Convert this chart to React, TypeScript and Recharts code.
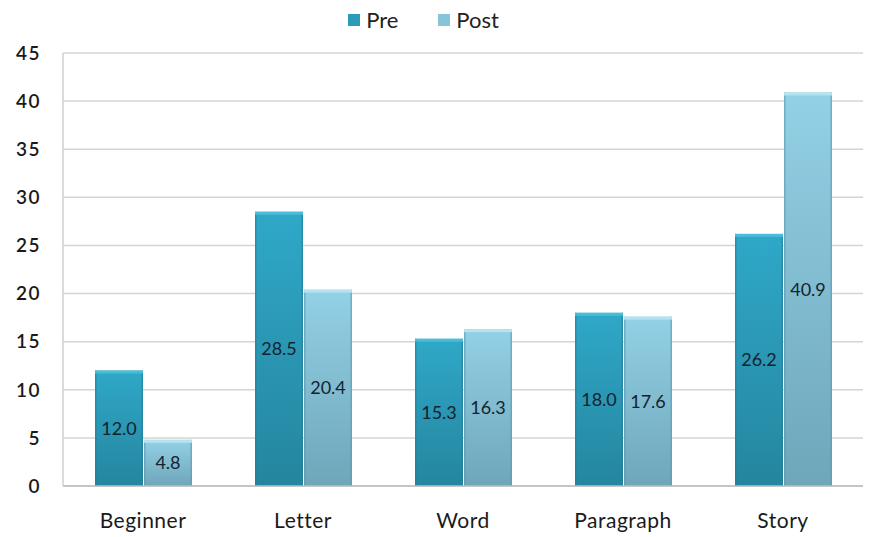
import React from "react";
import {
  BarChart,
  Bar,
  XAxis,
  YAxis,
  CartesianGrid,
  Legend,
  LabelList
} from "recharts";

const levels = ["Beginner", "Letter", "Word", "Paragraph", "Story"];
const preScores = [12.0, 28.5, 15.3, 18.0, 26.2];
const postScores = [4.8, 20.4, 16.3, 17.6, 40.9];
const yTicks = [0, 5, 10, 15, 20, 25, 30, 35, 40, 45];

const data = levels.map((name, i) => ({
  name,
  Pre: preScores[i],
  Post: postScores[i]
}));

const FONT = "Lato, 'Open Sans', sans-serif";

// bar with a light cap on top, like the old office 3d-ish style
function makeShape(grad: string, cap: string, edge: string) {
  return (props: any) => {
    const { x, y, width, height } = props;
    if (!height || height <= 0) return null;
    return (
      <g>
        <rect x={x} y={y} width={width} height={height} fill={`url(#${grad})`} />
        <rect x={x} y={y} width={1.5} height={height} fill={edge} opacity={0.6} />
        <rect x={x + width - 1.5} y={y} width={1.5} height={height} fill={edge} opacity={0.6} />
        <rect x={x} y={y} width={width} height={3} fill={cap} />
      </g>
    );
  };
}

function LegendBox() {
  const items = [
    { label: "Pre", color: "#2a9cb9" },
    { label: "Post", color: "#86c4da" }
  ];
  return (
    <div style={{ display: "flex", justifyContent: "center", gap: 40, fontFamily: FONT, fontSize: 22, color: "#222", marginLeft: -22 }}>
      {items.map((it) => (
        <div key={it.label} style={{ display: "flex", alignItems: "center" }}>
          <span style={{ width: 12, height: 12, background: it.color, marginRight: 6, display: "inline-block" }} />
          {it.label}
        </div>
      ))}
    </div>
  );
}

export default function App(): JSX.Element {
  return (
    <div style={{ position: "absolute", left: 0, top: 0 }}>
      <BarChart
        width={869}
        height={537}
        data={data}
        barCategoryGap="20%"
        barGap={1}
        margin={{ top: 26, right: 6, left: 0, bottom: 0 }}
      >
        <defs>
          <linearGradient id="preGrad" x1="0" y1="0" x2="0" y2="1">
            <stop offset="0%" stopColor="#2fa8c8" />
            <stop offset="100%" stopColor="#25859f" />
          </linearGradient>
          <linearGradient id="postGrad" x1="0" y1="0" x2="0" y2="1">
            <stop offset="0%" stopColor="#93d1e6" />
            <stop offset="100%" stopColor="#6ea6ba" />
          </linearGradient>
        </defs>
        <CartesianGrid vertical={false} stroke="#d4d4d4" strokeWidth={1.5} />
        <XAxis
          dataKey="name"
          height={51}
          stroke="#bdbdbd"
          strokeWidth={1.5}
          tickLine={false}
          tickMargin={21}
          tick={{ fontFamily: FONT, fontSize: 21, fill: "#1a1a1a", letterSpacing: 0.5 }}
        />
        <YAxis
          width={63}
          domain={[0, 45]}
          ticks={yTicks}
          interval={0}
          stroke="#cfcfcf"
          strokeWidth={1.5}
          tickLine={false}
          tickSize={0}
          tickMargin={22}
          tick={{ fontFamily: FONT, fontSize: 19, fill: "#1a1a1a", fontWeight: 600, letterSpacing: 1.5 }}
        />
        <Legend
          verticalAlign="top"
          content={() => <LegendBox />}
          wrapperStyle={{ top: 6, left: 0, width: 869 }}
        />
        <Bar dataKey="Pre" isAnimationActive={false} shape={makeShape("preGrad", "#48bcd8", "#1f7f99")}>
          <LabelList
            dataKey="Pre"
            position="center"
            formatter={(v: number) => v.toFixed(1)}
            style={{ fontFamily: FONT, fontSize: 18, fill: "#15232e" }}
          />
        </Bar>
        <Bar dataKey="Post" isAnimationActive={false} shape={makeShape("postGrad", "#b3e3f1", "#5f98ad")}>
          <LabelList
            dataKey="Post"
            position="center"
            formatter={(v: number) => v.toFixed(1)}
            style={{ fontFamily: FONT, fontSize: 18, fill: "#15232e" }}
          />
        </Bar>
      </BarChart>
    </div>
  );
}
